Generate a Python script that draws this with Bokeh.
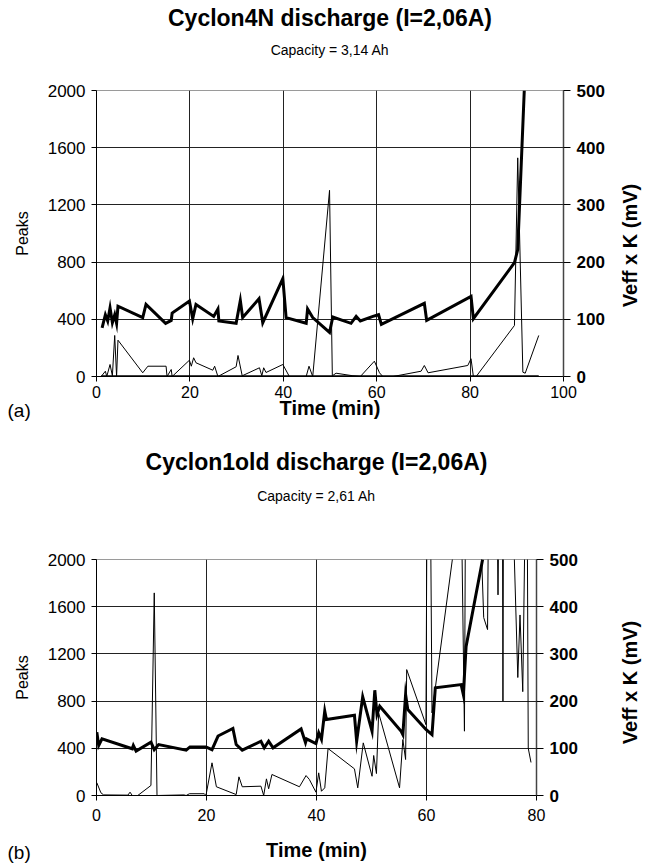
import math
from bokeh.plotting import figure
from bokeh.models import Range1d, LinearAxis, FixedTicker, Title
from bokeh.layouts import column, row
from bokeh.core.properties import value
from bokeh.embed import file_html
from bokeh.resources import INLINE

FONT = "Liberation Sans"

# ---------------- (a) Cyclon4N ----------------
a_title = "Cyclon4N discharge (I=2,06A)"
a_sub = "Capacity = 3,14 Ah"
a_xticks = [0, 20, 40, 60, 80, 100]
a_peaks_ticks = [0, 400, 800, 1200, 1600, 2000]
a_veff_ticks = [0, 100, 200, 300, 400, 500]

a_veff_t = [1.2, 1.9, 2.4, 2.9, 3.4, 3.9, 4.3, 4.6, 9.9, 10.6, 14.8, 16.0, 16.2, 19.9, 20.6, 21.3,
            25.1, 26.0, 26.2, 29.9, 30.8, 31.3, 34.8, 35.6, 39.9, 40.6, 44.9, 45.2, 46.3, 49.9, 50.6,
            54.5, 55.6, 56.5, 59.2, 60.4, 61.0, 70.2, 70.7, 80.2, 80.7, 89.5, 90.2, 91.6]
a_veff = [85, 108, 97, 120, 94, 108, 93, 123, 103, 126, 93, 98, 111, 132, 101, 126,
          105, 118, 97, 93, 133, 103, 136, 94, 171, 103, 93, 118, 103, 77, 104,
          93, 105, 97, 105, 108, 91, 128, 98, 140, 101, 199, 222, 500]

a_peaks_t = [1.0, 1.9, 2.2, 2.9, 3.4, 3.9, 4.3, 4.6, 9.9, 11.0, 14.9, 15.1, 16.0, 16.2, 19.9, 20.3,
             20.8, 21.3, 24.9, 25.3, 26.0, 29.9, 30.3, 31.2, 34.9, 35.4, 35.8, 36.3, 39.9, 41.3,
             44.9, 45.5, 46.3, 49.9, 50.5, 51.3, 54.9, 56.5, 59.5, 60.6, 61.3, 63.5, 69.5, 70.2,
             71.0, 79.5, 80.2, 80.7, 81.3, 89.5, 90.2, 91.3, 91.8, 94.7]
a_peaks = [0, 37, 0, 84, 5, 287, 0, 254, 26, 72, 72, 0, 49, 0, 114, 72,
           131, 96, 44, 72, 0, 68, 147, 5, 61, 5, 61, 28, 84, 0,
           0, 72, 0, 1302, 5, 23, 5, 0, 107, 26, 0, 0, 37, 77,
           26, 77, 124, 0, 0, 357, 1529, 30, 23, 287]

# ---------------- (b) Cyclon1old ----------------
b_title = "Cyclon1old discharge (I=2,06A)"
b_sub = "Capacity = 2,61 Ah"
b_xticks = [0, 20, 40, 60, 80]
b_peaks_ticks = [0, 400, 800, 1200, 1600, 2000]
b_veff_ticks = [0, 100, 200, 300, 400, 500]

b_veff_t = [0.06, 0.4, 1.0, 6.5, 6.7, 7.2, 9.9, 10.5, 11.3, 16.3, 17.0, 19.9, 21.0, 22.1, 24.8, 25.4,
            26.5, 29.9, 30.5, 31.3, 32.1, 37.2, 38.0, 38.2, 39.9, 40.4, 40.9, 41.5, 41.8, 46.9, 47.3,
            48.4, 50.1, 50.6, 51.0, 51.5, 55.4, 55.7, 56.2, 56.6, 59.9, 61.0, 61.6, 66.3, 66.7, 67.2, 70.2]
b_veff = [134, 106, 120, 99, 106, 94, 113, 97, 108, 96, 103, 103, 97, 126, 142, 108,
          96, 115, 101, 115, 101, 141, 112, 120, 110, 133, 119, 179, 161, 170, 115,
          209, 136, 223, 172, 189, 136, 129, 214, 182, 140, 129, 228, 235, 214, 316, 500]

b_peaks_t = [0.06, 0.8, 1.3, 5.7, 6.1, 6.5, 7.5, 9.9, 10.5, 11.0, 15.9, 16.3, 16.9, 19.6, 19.9, 21.0,
             21.8, 25.4, 25.9, 26.5, 29.9, 30.4, 30.9, 31.3, 31.9, 36.9, 38.1, 38.7, 39.9, 40.4,
             40.9, 41.5, 42.1, 46.9, 47.5, 48.5, 50.1, 50.4, 50.9, 51.3, 55.1, 55.7, 56.2, 56.4,
             59.9, 60.1, 60.7, 61.0, 64.7, 65.2, 66.3, 66.9, 67.1, 69.6, 70.4, 71.1, 71.3, 72.8,
             73.0, 73.2, 73.8, 73.9, 74.0, 75.6, 76.6, 77.0, 77.5, 78.0, 78.3, 78.5, 79.0]
b_peaks = [108, 23, 5, 3, 28, 0, 0, 85, 1717, 0, 5, 0, 15, 15, 0, 277,
           74, 8, 158, 74, 79, 0, 141, 57, 178, 74, 169, 136, 28, 192,
           36, 65, 398, 226, 65, 446, 163, 339, 186, 700, 65, 474, 305, 1067,
           600, 2600, 2600, 700, 2000, 2600, 2600, 545, 2600, 2600, 1508, 1406, 2600, 2600,
           1700, 2600, 2600, 800, 2600, 2600, 1000, 1530, 880, 2600, 2600, 400, 280]

RIGHT_W = 38


def style_axis(ax, bold_ticks=False, bold_label=False, tick_size="17px", label_size="20px"):
    ax.axis_line_color = "black"
    ax.axis_line_width = 1
    ax.major_tick_line_color = "black"
    ax.minor_tick_line_color = None
    ax.major_tick_in = 0
    ax.major_label_text_font = FONT
    ax.major_label_text_font_size = tick_size
    ax.major_label_text_color = "black"
    ax.major_label_text_font_style = "bold" if bold_ticks else "normal"
    ax.axis_label_text_font = FONT
    ax.axis_label_text_font_size = label_size
    ax.axis_label_text_color = "black"
    ax.axis_label_text_font_style = "bold" if bold_label else "normal"


def make_chart(title, sub, xmax, xticks, pticks, vticks, peaks_t, peaks, veff_t, veff,
               frame_w, frame_h, border_top, border_bottom, border_right,
               spacer_standoff, sub_standoff, title_standoff,
               x_label_standoff, x_tick_standoff,
               letter, veff_lab_shift, baseline):
    p = figure(frame_width=frame_w, frame_height=frame_h,
               x_range=Range1d(0, xmax), y_range=Range1d(0, 2000),
               output_backend="svg", toolbar_location=None, title_location=None,
               min_border_left=96, min_border_right=border_right,
               min_border_top=border_top, min_border_bottom=border_bottom,
               background_fill_color="white", border_fill_color="white")
    p.outline_line_color = "#9a9a9a"
    p.outline_line_width = 1
    p.extra_y_ranges = {"veff": Range1d(0, 500)}

    p.xaxis.ticker = FixedTicker(ticks=xticks)
    p.yaxis.ticker = FixedTicker(ticks=pticks)
    p.xaxis.axis_label = "Time (min)"
    p.yaxis.axis_label = "Peaks"
    style_axis(p.xaxis[0], bold_ticks=False, bold_label=True, tick_size="16px")
    style_axis(p.yaxis[0], bold_ticks=False, bold_label=False, label_size="16px")
    p.xaxis.major_tick_out = 5
    p.xaxis.major_label_standoff = x_tick_standoff
    p.xaxis.axis_label_standoff = x_label_standoff
    p.yaxis.major_tick_out = 5
    p.yaxis.major_label_standoff = 6
    p.yaxis.axis_label_standoff = 14

    rax = LinearAxis(y_range_name="veff", ticker=FixedTicker(ticks=vticks))
    style_axis(rax, bold_ticks=True, bold_label=True, tick_size="17px")
    rax.axis_line_color = "#444444"
    rax.axis_line_width = 1.5
    rax.major_tick_out = 7
    rax.major_label_standoff = 6
    p.add_layout(rax, "right")

    inner_x = [t for t in xticks if 0 < t < xmax]
    p.xgrid.ticker = FixedTicker(ticks=inner_x)
    p.ygrid.ticker = FixedTicker(ticks=pticks[1:-1])
    p.xgrid.grid_line_color = "#222222"
    p.ygrid.grid_line_color = "#222222"
    p.xgrid.grid_line_width = 1
    p.ygrid.grid_line_width = 1

    p.line(peaks_t, peaks, line_color="black", line_width=1)
    if baseline:
        p.line([peaks_t[0], peaks_t[-1]], [0, 0], line_color="black", line_width=2.5)
    p.line(veff_t, veff, line_color="black", line_width=3, y_range_name="veff",
           line_join="miter")

    # panels above the frame, stacked outward: spacer, subtitle, title
    p.add_layout(Title(text=" ", align="center", text_font=FONT, text_font_size="2px",
                       standoff=spacer_standoff), "above")
    p.add_layout(Title(text=sub, align="center", text_font=FONT, text_font_size="14px",
                       text_font_style="normal", text_color="black", standoff=sub_standoff), "above")
    p.add_layout(Title(text=title, align="center", text_font=FONT, text_font_size="23px",
                       text_font_style="bold", text_color="black", standoff=title_standoff), "above")

    # panel letter, on the line of the x axis title, at the left edge of the figure
    p.add_layout(Title(text=letter, align="left", vertical_align="top", offset=-89,
                       text_font=FONT, text_font_size="19px", text_font_style="normal",
                       text_color="black", standoff=-44), "below")

    # right strip (frame aligned with the chart): secondary y axis title, reading upward
    r = figure(frame_width=RIGHT_W, frame_height=frame_h,
               min_border_left=0, min_border_right=0,
               min_border_top=border_top, min_border_bottom=border_bottom,
               x_range=Range1d(0, RIGHT_W), y_range=Range1d(0, frame_h),
               x_axis_type=None, y_axis_type=None, output_backend="svg",
               toolbar_location=None, title_location=None,
               background_fill_color="white", border_fill_color="white")
    r.outline_line_color = None
    r.grid.visible = False
    r.text(x=[RIGHT_W / 2 - 1], y=[frame_h / 2 - veff_lab_shift], text=["Veff x K (mV)"],
           angle=math.pi / 2, text_font=value(FONT), text_font_size=value("20px"),
           text_font_style="bold", text_color="black",
           text_align="center", text_baseline="middle")
    return row(p, r, spacing=0)


ra = make_chart(a_title, a_sub, 100, a_xticks, a_peaks_ticks, a_veff_ticks,
                a_peaks_t, a_peaks, a_veff_t, a_veff,
                467, 286, 90, 53, 48,
                21, 15, 4,
                -4, 4,
                "(a)", 12, True)
rb = make_chart(b_title, b_sub, 80, b_xticks, b_peaks_ticks, b_veff_ticks,
                b_peaks_t, b_peaks, b_veff_t, b_veff,
                440, 236, 130, 68, 75,
                44, 15, 8,
                15, 8,
                "(b)", 5, False)

layout = column(ra, rb, spacing=0)
open("out.html", "w").write(file_html(layout, INLINE))
